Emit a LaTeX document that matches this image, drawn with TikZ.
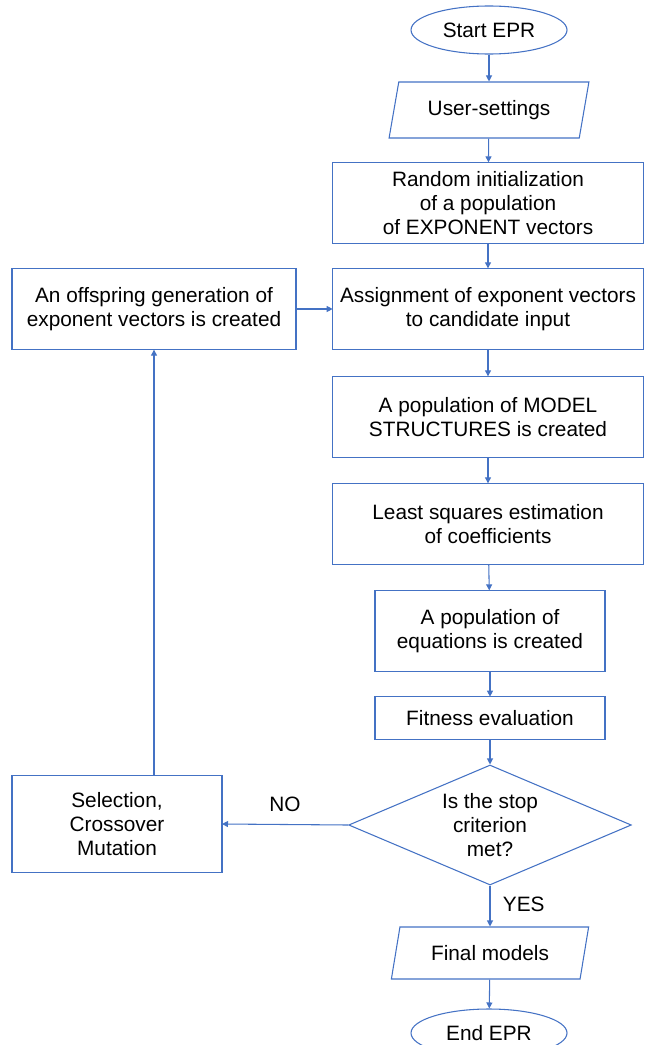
\documentclass[tikz,border=0pt]{standalone}
\usepackage{fontspec}
\setmainfont{Liberation Sans}
\usepackage{tikz}
\usetikzlibrary{arrows.meta,shapes.geometric,positioning}
\definecolor{lineblue}{RGB}{68,114,196}

\begin{document}
\begin{tikzpicture}[x=0.75pt, y=-0.75pt,
    font=\fontsize{15.6}{18}\selectfont,
    every node/.style = {align=center, text=black},
    line/.style = {draw=lineblue, line width=0.8pt},
    B/.style = {rectangle, line,% process boxes
                minimum width=233pt, minimum height=61pt, outer sep=0pt},
    T/.style = {ellipse, line, inner sep=0pt,% start and end
                minimum width=117pt, minimum height=36pt},
    P/.style = {trapezium, line, trapezium stretches=true,% input / output
                trapezium left angle=76, trapezium right angle=104,
                minimum width=150pt, minimum height=42pt},
    D/.style = {diamond, line, inner sep=0pt, shape aspect=2.36,% decision
                minimum width=212pt, minimum height=90pt},
    arr/.style = {line, -{Triangle[length=4.5pt,width=4.5pt]}},
                        ]
\useasboundingbox (0,0) rectangle (645,1045);
\clip (0,0) rectangle (645,1045);
% main column
\node[T] (start) at (489,30) {Start EPR};
\node[P] (user) at (489,110) {User-settings};
\node[B] (rand) at (488,203) {Random initialization\\of a population\\of EXPONENT vectors};
\node[B] (assign) at (488,309) {Assignment of exponent vectors\\to candidate input};
\node[B] (model) at (488,417) {A population of MODEL\\STRUCTURES is created};
\node[B] (lsq) at (488,524) {Least squares estimation\\of coefficients};
\node[B, minimum width=172.5pt] (eqs) at (490,631) {A population of\\equations is created};
\node[B, minimum width=172.5pt, minimum height=32pt] (fit) at (490,718) {Fitness evaluation};
\node[D] (stop) at (490,825) {Is the stop\\criterion\\met?};
\node[P, minimum width=148pt, minimum height=39pt] (final) at (490,953) {Final models};
\node[T] (end) at (489,1033) {End EPR};
% loop back
\node[B, minimum width=157.5pt, minimum height=73pt] (sel) at (117,824) {Selection,\\Crossover\\Mutation};
\node[B, minimum width=213pt] (offs) at (154,309) {An offspring generation of\\exponent vectors is created};

\draw[arr] (start) -- (user);
\draw[arr] (user) -- (rand);
\draw[arr] (rand) -- (assign);
\draw[arr] (assign) -- (model);
\draw[arr] (model) -- (lsq);
\draw[arr] (lsq) -- (eqs);
\draw[arr] (eqs) -- (fit);
\draw[arr] (fit) -- (stop);
\draw[arr] (stop) -- node[right=6pt, pos=0.45] (yes) {YES} (final);
\draw[arr] (final) -- (end);
\draw[arr] (stop.west) -- node[above=6pt] (no) {NO} (sel.east);
\draw[arr] (offs.south |- sel.north) -- (offs.south);
\draw[arr] (offs) -- (assign);
\end{tikzpicture}
\end{document}
